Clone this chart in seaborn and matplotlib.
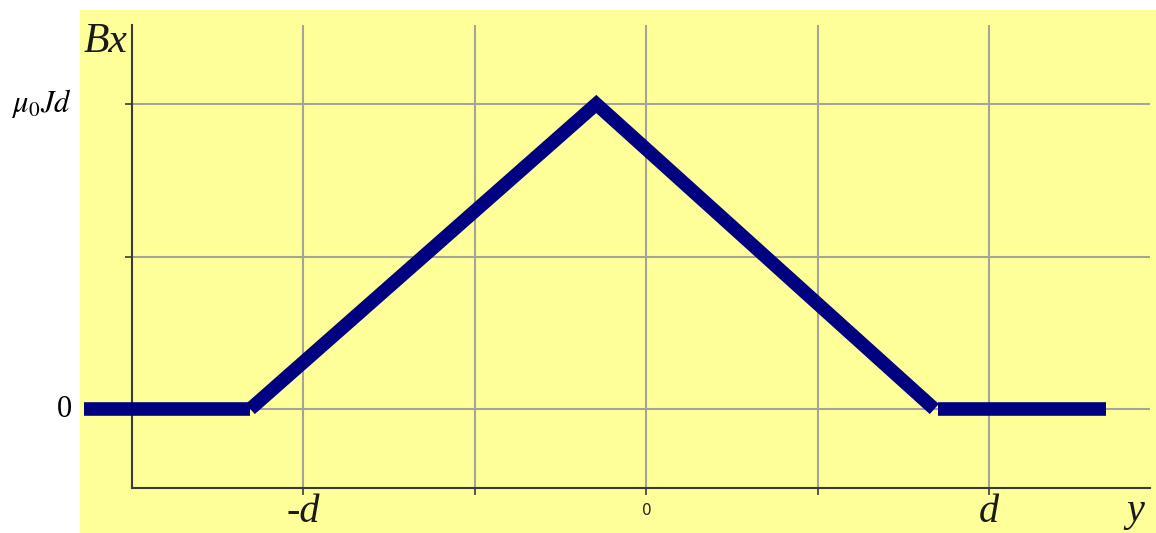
import matplotlib
matplotlib.use("Agg")
import matplotlib.pyplot as plt
from matplotlib.patches import Rectangle
import seaborn as sns
import pandas as pd

# Field profile Bx(y) in units of d (x) and mu0*J*d (y)
left_flat_y = [-1.64, -1.155]
left_flat_b = [0.0, 0.0]
peak_y = [-1.155, -0.146, 0.84]
peak_b = [0.0, 1.0, 0.0]
right_flat_y = [0.85, 1.34]
right_flat_b = [0.0, 0.0]

x_grid = [-1.0, -0.5, 0.0, 0.5, 1.0]
y_grid = [0.0, 0.5, 1.0]
x_labels = {-1.0: "-d", 0.0: "0", 1.0: "d"}

sns.set_style("white")
plt.rcParams["mathtext.fontset"] = "stix"

W, H = 1156, 533
fig = plt.figure(figsize=(W / 100, H / 100), dpi=100)
fig.patch.set_facecolor("white")

# pale yellow panel behind the plot
fig.add_artist(Rectangle((80 / W, 0), (W - 80) / W, (H - 10) / H,
                         transform=fig.transFigure, facecolor="#FFFF99",
                         edgecolor="none", zorder=0))

ax = fig.add_axes([132 / W, (H - 488) / H, (1150 - 132) / W, (488 - 25) / H])
ax.set_facecolor("none")
ax.set_xlim(-1.5, 1.469)
ax.set_ylim(-0.259, 1.259)

for s in ["top", "right"]:
    ax.spines[s].set_visible(False)
for s in ["left", "bottom"]:
    ax.spines[s].set_color("#3a3a3a")
    ax.spines[s].set_linewidth(1.5)

for xv in x_grid:
    ax.axvline(xv, color="#a4a49a", lw=1.5, zorder=1)
for yv in y_grid:
    ax.axhline(yv, color="#a4a49a", lw=1.5, zorder=1)

ax.set_xticks(x_grid)
ax.set_xticklabels([])
ax.set_yticks([0.5, 1.0])
ax.set_yticklabels([])
ax.tick_params(axis="both", direction="out", length=5, width=1.2,
               color="#3a3a3a", bottom=True, left=True)

navy = "#000080"
seg_kw = dict(color=navy, linewidth=9.8, estimator=None, sort=False,
              legend=False, ax=ax, zorder=5)
d1 = pd.DataFrame({"y": left_flat_y, "B": left_flat_b})
d2 = pd.DataFrame({"y": peak_y, "B": peak_b})
d3 = pd.DataFrame({"y": right_flat_y, "B": right_flat_b})
for d in (d1, d2, d3):
    sns.lineplot(data=d, x="y", y="B", **seg_kw)
for ln in ax.lines[-3:]:
    ln.set_solid_capstyle("butt")
    ln.set_solid_joinstyle("miter")
    ln.set_clip_on(False)
ax.set_xlabel("")
ax.set_ylabel("")

serif_it = dict(family="Liberation Serif", style="italic")
ytr = ax.get_yaxis_transform()
xtr = ax.get_xaxis_transform()

ax.text(-0.059, 1.0, r"$\mu_0 Jd$", transform=ytr, ha="right", va="center",
        fontsize=22, color="black")
ax.text(-0.059, 0.0, "0", transform=ytr, ha="right", va="center",
        fontsize=22, family="Liberation Serif", color="black")

for xv, lab in x_labels.items():
    if lab == "0":
        ax.text(xv, -0.048, lab, transform=xtr, ha="center", va="center",
                fontsize=11, family="DejaVu Sans", color="#222222")
    else:
        ax.text(xv, -0.052, lab, transform=xtr, ha="center", va="center",
                fontsize=29, color="#1a1a1a", **serif_it)

ax.text(1.425, -0.05, "y", transform=xtr, ha="center", va="center",
        fontsize=29, color="#1a1a1a", **serif_it)
fig.text(106 / W, 1 - 42 / H, "Bx", ha="center", va="center",
         fontsize=30, color="#1a1a1a", **serif_it)

fig.savefig("out.png", dpi=100, facecolor="white")
